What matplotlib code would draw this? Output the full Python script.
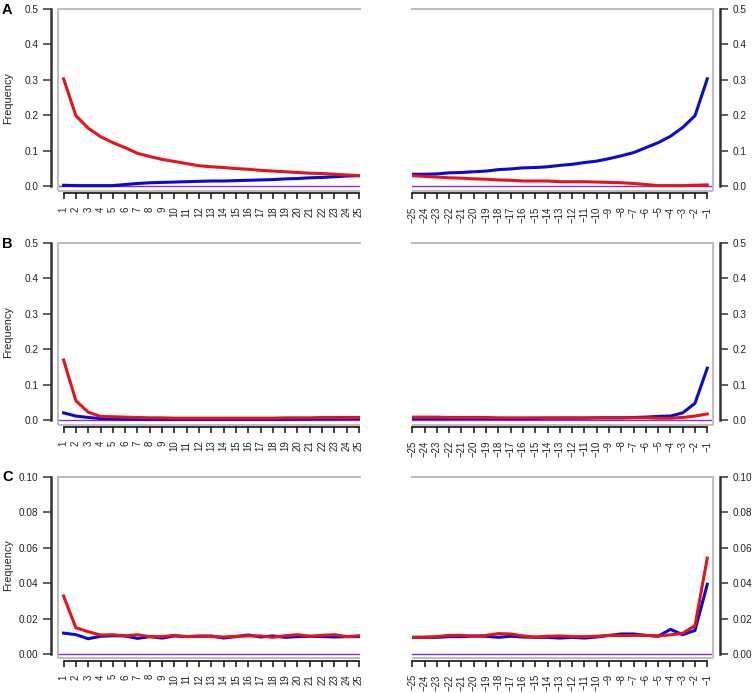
import numpy as np
import matplotlib
matplotlib.use("Agg")
import matplotlib.pyplot as plt

plt.rcParams['font.family'] = ['Liberation Sans', 'DejaVu Sans']

# positions after the site (left) and before the site (right)
pos_left = np.arange(1, 26)
pos_right = np.arange(-25, 0)

# Panel A
a_left_red = [0.303, 0.199, 0.164, 0.140, 0.123, 0.109, 0.093, 0.084, 0.076, 0.070,
              0.064, 0.058, 0.055, 0.053, 0.050, 0.048, 0.045, 0.043, 0.041, 0.039,
              0.037, 0.036, 0.034, 0.032, 0.030]
a_left_blue = [0.003, 0.002, 0.002, 0.002, 0.002, 0.005, 0.008, 0.010, 0.011, 0.012,
               0.013, 0.014, 0.015, 0.015, 0.016, 0.017, 0.018, 0.019, 0.021, 0.022,
               0.024, 0.025, 0.027, 0.029, 0.030]
a_right_red = [0.030, 0.028, 0.026, 0.024, 0.023, 0.021, 0.020, 0.018, 0.017, 0.015,
               0.015, 0.015, 0.013, 0.013, 0.013, 0.012, 0.011, 0.010, 0.008, 0.005,
               0.002, 0.002, 0.002, 0.003, 0.004]
a_right_blue = [0.034, 0.034, 0.035, 0.038, 0.039, 0.041, 0.043, 0.047, 0.049, 0.052,
                0.053, 0.055, 0.059, 0.062, 0.067, 0.071, 0.078, 0.086, 0.095, 0.109,
                0.123, 0.141, 0.166, 0.199, 0.303]

# Panel B
b_left_red = [0.170, 0.055, 0.023, 0.011, 0.010, 0.009, 0.008, 0.007, 0.007, 0.006,
              0.006, 0.006, 0.006, 0.006, 0.006, 0.006, 0.006, 0.006, 0.007, 0.007,
              0.007, 0.008, 0.008, 0.008, 0.008]
b_left_blue = [0.021, 0.012, 0.008, 0.005, 0.004, 0.003, 0.003, 0.003, 0.003, 0.003,
               0.003, 0.003, 0.003, 0.003, 0.003, 0.003, 0.003, 0.003, 0.003, 0.003,
               0.004, 0.004, 0.004, 0.005, 0.005]
b_right_red = [0.009, 0.009, 0.009, 0.008, 0.008, 0.008, 0.008, 0.007, 0.007, 0.007,
               0.007, 0.007, 0.007, 0.007, 0.007, 0.007, 0.007, 0.007, 0.007, 0.007,
               0.006, 0.006, 0.008, 0.012, 0.018]
b_right_blue = [0.005, 0.005, 0.005, 0.005, 0.005, 0.005, 0.005, 0.005, 0.005, 0.005,
                0.005, 0.006, 0.006, 0.006, 0.006, 0.007, 0.007, 0.007, 0.008, 0.009,
                0.011, 0.012, 0.021, 0.048, 0.147]

# Panel C
c_left_red = [0.0327, 0.0148, 0.0126, 0.0107, 0.0109, 0.0102, 0.0109, 0.0098, 0.0098, 0.0105,
              0.0098, 0.0102, 0.0098, 0.0096, 0.0100, 0.0102, 0.0102, 0.0094, 0.0103, 0.0109,
              0.0100, 0.0105, 0.0109, 0.0098, 0.0103]
c_left_blue = [0.0118, 0.0109, 0.0086, 0.0100, 0.0103, 0.0102, 0.0088, 0.0098, 0.0090, 0.0102,
               0.0098, 0.0100, 0.0102, 0.0090, 0.0098, 0.0107, 0.0096, 0.0102, 0.0094, 0.0098,
               0.0100, 0.0098, 0.0096, 0.0098, 0.0098]
c_right_red = [0.0094, 0.0095, 0.0098, 0.0105, 0.0105, 0.0100, 0.0105, 0.0115, 0.0113, 0.0102,
               0.0096, 0.0100, 0.0102, 0.0098, 0.0098, 0.0100, 0.0105, 0.0104, 0.0105, 0.0105,
               0.0102, 0.0108, 0.0117, 0.0160, 0.0541]
c_right_blue = [0.0094, 0.0094, 0.0094, 0.0098, 0.0098, 0.0102, 0.0100, 0.0094, 0.0100, 0.0096,
                0.0094, 0.0094, 0.0090, 0.0094, 0.0090, 0.0096, 0.0105, 0.0113, 0.0113, 0.0105,
                0.0100, 0.0139, 0.0109, 0.0133, 0.0393]

panels = [
    ("A", 0.5, [0.0, 0.1, 0.2, 0.3, 0.4, 0.5], "%.1f",
     a_left_red, a_left_blue, a_right_red, a_right_blue),
    ("B", 0.5, [0.0, 0.1, 0.2, 0.3, 0.4, 0.5], "%.1f",
     b_left_red, b_left_blue, b_right_red, b_right_blue),
    ("C", 0.10, [0.00, 0.02, 0.04, 0.06, 0.08, 0.10], "%.2f",
     c_left_red, c_left_blue, c_right_red, c_right_blue),
]

RED = '#E3141B'
BLUE = '#0A0AD0'
PURPLE = '#8B2BD9'
BOX = '#BEBEBE'
AXC = '#333333'

W, H = 753, 693
fig = plt.figure(figsize=(W / 100, H / 100), dpi=100)

row_tops = [9, 243, 476.7]
box_h = 181.7


def style_axes(ax, side, ymax, yticks, fmt, xpos):
    ax.set_ylim(-0.02476 * ymax, ymax)
    for s in ax.spines.values():
        s.set_visible(False)
    ax.spines['top'].set_visible(True)
    ax.spines['top'].set_color(BOX)
    ax.spines['top'].set_linewidth(1.5)
    # gray box sides
    xs = 0 if side == 'left' else 1
    ax.plot([xs, xs], [0, 1], transform=ax.transAxes, color=BOX, lw=1.5,
            clip_on=False, solid_capstyle='butt')
    ax.plot([0, 1], [0, 0], transform=ax.transAxes, color=BOX, lw=1.5,
            clip_on=False, solid_capstyle='butt')
    # y axis
    sp = ax.spines[side]
    sp.set_visible(True)
    sp.set_position(('outward', 4.7))
    sp.set_bounds(0, ymax)
    sp.set_color(AXC)
    sp.set_linewidth(1.8)
    if side == 'right':
        ax.yaxis.tick_right()
    ax.set_yticks(yticks)
    ax.set_yticklabels([fmt % v for v in yticks])
    ax.tick_params(axis='y', length=5.5, width=1.1, color=AXC, pad=4,
                   labelsize=7.2, labelcolor='#222222')
    # x axis
    bt = ax.spines['bottom']
    bt.set_visible(True)
    bt.set_position(('outward', 1.9))
    bt.set_bounds(xpos[0], xpos[-1])
    bt.set_color('#111111')
    bt.set_linewidth(1.2)
    ax.set_xticks(xpos)
    ax.set_xticklabels([str(v).replace('-', '\u2212') for v in xpos], rotation=90)
    ax.tick_params(axis='x', length=4.5, width=1.1, color='#111111', pad=5,
                   labelsize=6.9, labelcolor='#222222')


for (letter, ymax, yticks, fmt, lr, lb, rr, rb), top in zip(panels, row_tops):
    bottom = (H - top - box_h) / H
    axl = fig.add_axes([58 / W, bottom, 302 / W, box_h / H])
    axr = fig.add_axes([411.7 / W, bottom, 301.6 / W, box_h / H])

    axl.axhline(0, color=PURPLE, lw=1.0)
    axl.plot(pos_left, lb, color=BLUE, lw=2.2)
    axl.plot(pos_left, lr, color=RED, lw=2.2)
    axl.set_xlim(0.545, 25.08)
    style_axes(axl, 'left', ymax, yticks, fmt, pos_left)
    axl.set_ylabel("Frequency", fontsize=7.8, color='#222222')
    axl.yaxis.set_label_coords(-0.149, (0.5 * ymax + 0.02476 * ymax) / (1.02476 * ymax))

    axr.axhline(0, color=PURPLE, lw=1.0)
    axr.plot(pos_right, rb, color=BLUE, lw=2.2)
    axr.plot(pos_right, rr, color=RED, lw=2.2)
    axr.set_xlim(-25.05, -0.51)
    style_axes(axr, 'right', ymax, yticks, fmt, pos_right)

    fig.text(2 / W, 1 - (top + 0.5) / H, letter, fontsize=10.5, fontweight='bold',
             va='center', ha='left')

fig.savefig("out.png", dpi=100)
